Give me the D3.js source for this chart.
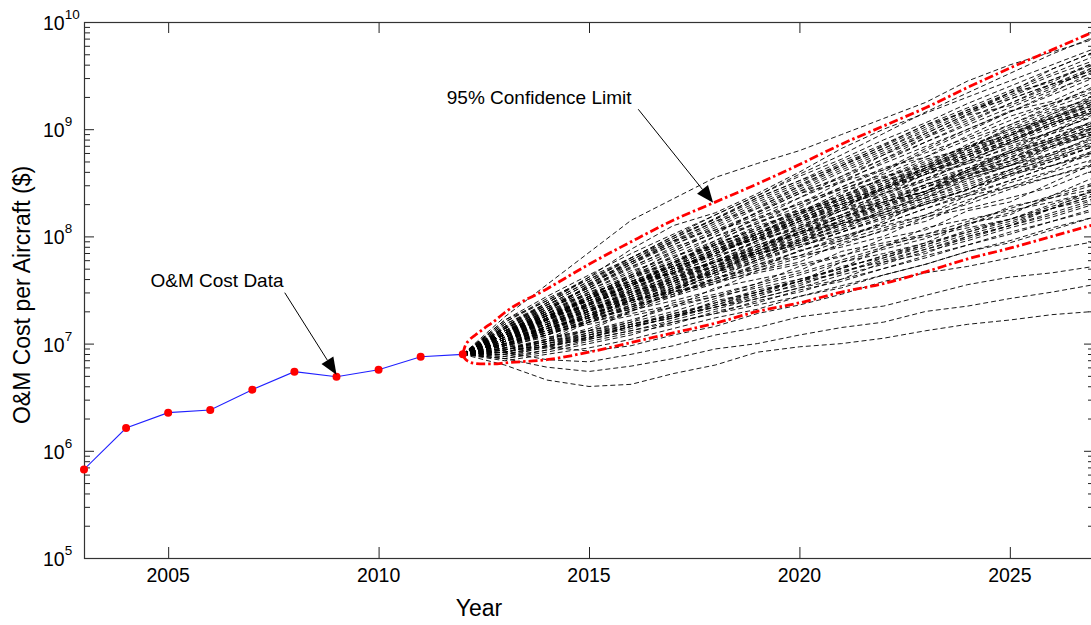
<!DOCTYPE html>
<html>
<head>
<meta charset="utf-8">
<script src="https://cdn.jsdelivr.net/npm/d3@7"></script>
<style>
  body { margin: 0; background: #fff; }
  svg { display: block; }
  text { font-family: "Liberation Sans", Arial, sans-serif; fill: #000; }
</style>
</head>
<body>
<svg id="chart" width="1091" height="625"></svg>
<script>
// historical O&M cost per aircraft ($)
const dataYears = [2003, 2004, 2005, 2006, 2007, 2008, 2009, 2010, 2011, 2012];
const dataCost = [6.7e5, 1.63e6, 2.27e6, 2.40e6, 3.72e6, 5.47e6, 4.91e6, 5.71e6, 7.55e6, 7.94e6];

// 95% confidence limits, log10 of cost
const limitYears = [2012, 2012.05, 2012.15, 2012.3, 2012.5, 2012.75, 2013, 2014, 2015, 2016, 2017, 2018, 2019, 2020, 2021, 2022, 2023, 2024, 2025, 2026, 2027];
const upperLog = [6.90, 6.97, 7.03, 7.08, 7.14, 7.21, 7.29, 7.51, 7.74, 7.95, 8.15, 8.32, 8.49, 8.67, 8.86, 9.03, 9.20, 9.39, 9.57, 9.74, 9.91];
const lowerLog = [6.90, 6.86, 6.83, 6.815, 6.81, 6.81, 6.82, 6.85, 6.92, 7.01, 7.10, 7.19, 7.30, 7.38, 7.48, 7.56, 7.67, 7.79, 7.89, 8.00, 8.11];

// simulated cost paths, log10 of cost, one value per year
const simYears = [2012, 2013, 2014, 2015, 2016, 2017, 2018, 2019, 2020, 2021, 2022, 2023, 2024, 2025, 2026, 2027];
const simPaths = [
  [6.90, 7.25, 7.55, 7.85, 8.15, 8.35, 8.55, 8.68, 8.80, 8.95, 9.10, 9.25, 9.45, 9.60, 9.72, 9.84],
  [6.90, 7.15, 7.38, 7.62, 7.88, 8.10, 8.22, 8.40, 8.60, 8.82, 9.00, 9.15, 9.30, 9.45, 9.60, 9.75],
  [6.90, 7.12, 7.30, 7.55, 7.78, 7.98, 8.17, 8.36, 8.52, 8.66, 8.82, 9.00, 9.18, 9.28, 9.42, 9.55],
  [6.90, 6.80, 6.66, 6.60, 6.62, 6.72, 6.80, 6.92, 6.97, 7.00, 7.05, 7.12, 7.18, 7.22, 7.27, 7.30],
  [6.90, 6.86, 6.78, 6.74, 6.79, 6.86, 6.95, 7.00, 7.08, 7.15, 7.20, 7.30, 7.35, 7.42, 7.48, 7.55],
  [6.90, 6.92, 6.85, 6.83, 6.90, 6.98, 7.08, 7.15, 7.25, 7.30, 7.35, 7.45, 7.55, 7.62, 7.66, 7.72],
  [6.90, 6.95, 6.97, 6.93, 6.98, 7.08, 7.16, 7.28, 7.36, 7.46, 7.58, 7.66, 7.72, 7.80, 7.88, 7.95],
  [6.90, 7.14, 7.36, 7.52, 7.74, 7.95, 8.14, 8.26, 8.47, 8.66, 8.85, 9.04, 9.16, 9.34, 9.56, 9.72],
  [6.90, 7.09, 7.30, 7.54, 7.71, 7.90, 8.02, 8.23, 8.42, 8.54, 8.72, 8.92, 9.13, 9.22, 9.38, 9.58],
  [6.90, 7.12, 7.23, 7.44, 7.64, 7.75, 7.96, 8.18, 8.30, 8.51, 8.62, 8.82, 9.00, 9.17, 9.26, 9.44],
  [6.90, 7.02, 7.24, 7.42, 7.54, 7.76, 7.94, 8.06, 8.26, 8.46, 8.64, 8.74, 8.94, 9.12, 9.24, 9.35],
  [6.90, 7.08, 7.18, 7.37, 7.56, 7.66, 7.86, 7.98, 8.17, 8.36, 8.55, 8.72, 8.82, 9.02, 9.18, 9.28],
  [6.90, 6.99, 7.16, 7.36, 7.46, 7.65, 7.76, 7.96, 8.14, 8.26, 8.46, 8.64, 8.76, 8.94, 9.11, 9.22],
  [6.90, 7.10, 7.28, 7.40, 7.48, 7.60, 7.78, 7.88, 8.08, 8.20, 8.40, 8.52, 8.70, 8.87, 8.96, 9.14],
  [6.90, 6.96, 7.14, 7.26, 7.44, 7.62, 7.72, 7.92, 8.02, 8.18, 8.30, 8.49, 8.60, 8.78, 8.90, 9.08],
  [6.90, 7.06, 7.14, 7.24, 7.41, 7.50, 7.68, 7.86, 7.97, 8.16, 8.32, 8.42, 8.62, 8.72, 8.89, 9.00],
  [6.90, 7.00, 7.08, 7.26, 7.34, 7.52, 7.60, 7.78, 7.96, 8.06, 8.25, 8.36, 8.54, 8.66, 8.84, 8.95],
  [6.90, 7.04, 7.12, 7.20, 7.36, 7.44, 7.62, 7.70, 7.87, 7.96, 8.14, 8.32, 8.43, 8.62, 8.72, 8.88],
  [6.90, 6.94, 7.04, 7.14, 7.31, 7.40, 7.50, 7.68, 7.76, 7.94, 8.05, 8.14, 8.32, 8.50, 8.61, 8.80],
  [6.90, 6.98, 7.06, 7.12, 7.20, 7.38, 7.46, 7.56, 7.72, 7.81, 7.98, 8.06, 8.24, 8.32, 8.50, 8.68],
  [6.90, 6.92, 7.00, 7.08, 7.16, 7.24, 7.40, 7.48, 7.58, 7.76, 7.84, 7.94, 8.12, 8.20, 8.38, 8.55],
  [6.90, 6.96, 7.02, 7.10, 7.18, 7.26, 7.34, 7.42, 7.52, 7.60, 7.76, 7.84, 8.00, 8.10, 8.26, 8.35],
  [6.90, 6.90, 6.98, 7.04, 7.12, 7.20, 7.28, 7.36, 7.44, 7.54, 7.64, 7.74, 7.86, 7.94, 8.06, 8.18],
  [6.90, 7.16, 7.38, 7.58, 7.80, 8.00, 8.20, 8.38, 8.58, 8.76, 8.96, 9.16, 9.34, 9.52, 9.70, 9.86],
  [6.90, 7.14, 7.32, 7.50, 7.68, 7.80, 8.00, 8.12, 8.32, 8.44, 8.56, 8.66, 8.86, 9.04, 9.22, 9.40],
  [6.90, 7.12, 7.34, 7.46, 7.56, 7.72, 7.92, 8.10, 8.22, 8.30, 8.40, 8.58, 8.68, 8.78, 8.96, 9.06],
  [6.90, 7.06, 7.26, 7.34, 7.42, 7.58, 7.66, 7.84, 7.92, 8.00, 8.10, 8.20, 8.38, 8.46, 8.56, 8.66],
  [6.90, 7.02, 7.22, 7.42, 7.62, 7.82, 7.92, 8.02, 8.22, 8.42, 8.52, 8.62, 8.70, 8.88, 9.06, 9.16],
  [6.90, 6.98, 7.16, 7.24, 7.32, 7.50, 7.70, 7.88, 8.08, 8.26, 8.44, 8.62, 8.82, 9.00, 9.10, 9.28],
  [6.90, 7.08, 7.28, 7.48, 7.58, 7.66, 7.76, 7.84, 7.94, 8.12, 8.20, 8.30, 8.40, 8.58, 8.66, 8.76],
  [6.90, 6.94, 7.02, 7.20, 7.28, 7.36, 7.44, 7.52, 7.60, 7.70, 7.90, 8.08, 8.16, 8.24, 8.32, 8.42],
  [6.90, 7.10, 7.32, 7.54, 7.76, 7.96, 8.06, 8.16, 8.36, 8.56, 8.76, 8.96, 9.14, 9.34, 9.44, 9.62],
  [6.90, 7.00, 7.10, 7.30, 7.50, 7.68, 7.88, 7.98, 8.06, 8.24, 8.32, 8.42, 8.62, 8.80, 8.98, 9.16],
  [6.90, 7.04, 7.22, 7.32, 7.40, 7.48, 7.56, 7.74, 7.82, 7.90, 8.00, 8.18, 8.26, 8.36, 8.46, 8.62],
  [6.90, 6.92, 7.02, 7.12, 7.30, 7.48, 7.58, 7.66, 7.74, 7.82, 7.92, 8.00, 8.08, 8.16, 8.26, 8.44],
  [6.90, 7.12, 7.22, 7.42, 7.62, 7.72, 7.82, 8.02, 8.20, 8.40, 8.60, 8.80, 8.98, 9.16, 9.34, 9.54],
  [6.90, 7.02, 7.10, 7.18, 7.26, 7.34, 7.52, 7.60, 7.68, 7.86, 7.94, 8.02, 8.10, 8.28, 8.36, 8.44],
  [6.90, 7.08, 7.26, 7.36, 7.54, 7.74, 7.94, 8.14, 8.24, 8.34, 8.44, 8.64, 8.84, 8.94, 9.14, 9.32],
  [6.90, 6.96, 7.04, 7.22, 7.40, 7.48, 7.66, 7.86, 8.04, 8.12, 8.22, 8.40, 8.58, 8.66, 8.76, 8.94],
  [6.90, 7.06, 7.24, 7.44, 7.64, 7.86, 8.04, 8.22, 8.40, 8.50, 8.70, 8.88, 9.06, 9.24, 9.42, 9.52],
  [6.90, 7.10, 7.26, 7.40, 7.56, 7.70, 7.86, 8.00, 8.16, 8.30, 8.46, 8.60, 8.76, 8.90, 9.06, 9.20],
  [6.90, 7.02, 7.16, 7.32, 7.44, 7.60, 7.72, 7.90, 8.02, 8.18, 8.28, 8.46, 8.56, 8.74, 8.84, 9.02],
  [6.90, 7.06, 7.20, 7.30, 7.48, 7.58, 7.76, 7.86, 8.04, 8.14, 8.32, 8.42, 8.60, 8.70, 8.88, 8.98],
  [6.90, 7.08, 7.22, 7.38, 7.50, 7.66, 7.80, 7.96, 8.08, 8.24, 8.36, 8.52, 8.64, 8.80, 8.92, 9.08],
  [6.90, 7.00, 7.12, 7.28, 7.38, 7.54, 7.66, 7.80, 7.94, 8.06, 8.20, 8.34, 8.46, 8.60, 8.74, 8.86],
  [6.90, 7.04, 7.20, 7.34, 7.50, 7.62, 7.78, 7.92, 8.06, 8.20, 8.36, 8.48, 8.64, 8.78, 8.92, 9.06],
  [6.90, 7.10, 7.24, 7.36, 7.52, 7.68, 7.82, 7.94, 8.10, 8.26, 8.38, 8.54, 8.70, 8.82, 8.98, 9.12],
  [6.90, 6.98, 7.10, 7.24, 7.36, 7.50, 7.64, 7.76, 7.90, 8.04, 8.16, 8.30, 8.44, 8.56, 8.70, 8.84],
  [6.90, 7.12, 7.30, 7.46, 7.62, 7.78, 7.92, 8.08, 8.24, 8.38, 8.54, 8.68, 8.84, 8.98, 9.14, 9.28],
  [6.90, 7.06, 7.18, 7.34, 7.48, 7.64, 7.76, 7.92, 8.04, 8.20, 8.34, 8.48, 8.62, 8.78, 8.90, 9.04],
  [6.90, 7.02, 7.14, 7.26, 7.42, 7.56, 7.70, 7.82, 7.98, 8.10, 8.24, 8.38, 8.52, 8.66, 8.78, 8.92],
  [6.90, 7.14, 7.32, 7.50, 7.66, 7.84, 8.00, 8.16, 8.30, 8.46, 8.62, 8.78, 8.92, 9.08, 9.24, 9.38],
  [6.90, 7.04, 7.16, 7.30, 7.42, 7.54, 7.70, 7.84, 7.96, 8.12, 8.26, 8.40, 8.54, 8.66, 8.82, 8.96],
  [6.90, 7.08, 7.24, 7.42, 7.56, 7.72, 7.88, 8.02, 8.18, 8.34, 8.48, 8.64, 8.78, 8.94, 9.08, 9.24],
  [6.90, 7.00, 7.08, 7.20, 7.34, 7.46, 7.60, 7.72, 7.86, 7.98, 8.12, 8.26, 8.38, 8.52, 8.66, 8.78],
  [6.90, 7.10, 7.28, 7.44, 7.58, 7.74, 7.90, 8.04, 8.20, 8.36, 8.50, 8.66, 8.80, 8.96, 9.10, 9.26],
  [6.90, 7.06, 7.22, 7.36, 7.52, 7.66, 7.84, 7.98, 8.12, 8.28, 8.42, 8.58, 8.72, 8.86, 9.02, 9.16],
  [6.90, 7.02, 7.18, 7.30, 7.46, 7.58, 7.74, 7.86, 8.02, 8.14, 8.30, 8.42, 8.58, 8.70, 8.86, 8.98],
  [6.90, 6.98, 7.12, 7.26, 7.40, 7.52, 7.68, 7.80, 7.94, 8.08, 8.22, 8.36, 8.50, 8.62, 8.78, 8.90],
  [6.90, 7.12, 7.28, 7.42, 7.60, 7.76, 7.90, 8.06, 8.22, 8.36, 8.52, 8.66, 8.82, 8.96, 9.12, 9.26],
  [6.90, 7.04, 7.14, 7.28, 7.40, 7.56, 7.68, 7.82, 7.96, 8.10, 8.22, 8.36, 8.48, 8.62, 8.76, 8.88],
  [6.90, 7.08, 7.20, 7.36, 7.52, 7.66, 7.80, 7.96, 8.10, 8.24, 8.40, 8.54, 8.68, 8.84, 8.98, 9.12],
  [6.90, 7.16, 7.34, 7.52, 7.70, 7.86, 8.04, 8.20, 8.36, 8.52, 8.68, 8.84, 9.00, 9.16, 9.32, 9.48],
  [6.90, 7.00, 7.10, 7.22, 7.32, 7.46, 7.58, 7.70, 7.82, 7.96, 8.08, 8.20, 8.34, 8.46, 8.60, 8.72],
  [6.90, 7.06, 7.22, 7.38, 7.54, 7.70, 7.84, 8.00, 8.14, 8.30, 8.44, 8.60, 8.74, 8.90, 9.04, 9.20],
  [6.90, 7.10, 7.22, 7.38, 7.54, 7.68, 7.84, 7.98, 8.14, 8.28, 8.44, 8.58, 8.74, 8.88, 9.04, 9.18],
  [6.90, 7.02, 7.12, 7.24, 7.38, 7.50, 7.64, 7.78, 7.90, 8.04, 8.18, 8.30, 8.44, 8.58, 8.70, 8.84],
  [6.90, 7.12, 7.26, 7.44, 7.58, 7.72, 7.88, 8.02, 8.16, 8.32, 8.46, 8.60, 8.76, 8.90, 9.06, 9.20],
  [6.90, 6.96, 7.08, 7.20, 7.30, 7.44, 7.56, 7.68, 7.80, 7.92, 8.06, 8.18, 8.30, 8.44, 8.56, 8.68],
  [6.90, 7.08, 7.26, 7.40, 7.54, 7.70, 7.86, 8.02, 8.16, 8.32, 8.48, 8.62, 8.78, 8.92, 9.08, 9.22],
  [6.90, 7.04, 7.18, 7.32, 7.46, 7.62, 7.76, 7.90, 8.04, 8.18, 8.32, 8.46, 8.60, 8.74, 8.88, 9.02],
  [6.90, 7.14, 7.30, 7.48, 7.64, 7.80, 7.96, 8.12, 8.28, 8.44, 8.58, 8.74, 8.90, 9.04, 9.20, 9.34],
  [6.90, 7.00, 7.14, 7.26, 7.40, 7.52, 7.66, 7.78, 7.92, 8.04, 8.18, 8.32, 8.44, 8.58, 8.72, 8.84],
  [6.90, 7.06, 7.18, 7.32, 7.48, 7.60, 7.76, 7.88, 8.04, 8.18, 8.34, 8.46, 8.62, 8.76, 8.90, 9.04],
  [6.90, 7.10, 7.26, 7.42, 7.58, 7.72, 7.88, 8.04, 8.18, 8.34, 8.50, 8.64, 8.80, 8.94, 9.10, 9.24],
  [6.90, 6.98, 7.08, 7.22, 7.34, 7.48, 7.60, 7.74, 7.86, 8.00, 8.12, 8.26, 8.40, 8.52, 8.66, 8.80],
  [6.90, 7.08, 7.22, 7.40, 7.54, 7.70, 7.84, 8.00, 8.14, 8.30, 8.44, 8.58, 8.74, 8.88, 9.04, 9.18],
  [6.90, 7.04, 7.16, 7.30, 7.44, 7.58, 7.72, 7.86, 8.00, 8.14, 8.28, 8.42, 8.56, 8.70, 8.84, 8.98],
  [6.90, 7.02, 7.16, 7.28, 7.44, 7.56, 7.72, 7.84, 8.00, 8.12, 8.28, 8.40, 8.56, 8.68, 8.84, 8.96],
  [6.90, 7.12, 7.28, 7.46, 7.62, 7.76, 7.92, 8.08, 8.22, 8.38, 8.54, 8.70, 8.84, 9.00, 9.16, 9.30],
  [6.90, 6.88, 6.97, 7.05, 7.16, 7.24, 7.36, 7.46, 7.58, 7.66, 7.80, 7.90, 8.02, 8.12, 8.26, 8.38],
  [6.90, 6.86, 6.92, 7.00, 7.08, 7.20, 7.28, 7.40, 7.48, 7.60, 7.70, 7.82, 7.92, 8.04, 8.14, 8.26],
  [6.90, 6.92, 7.00, 7.10, 7.20, 7.30, 7.42, 7.54, 7.64, 7.76, 7.88, 7.98, 8.12, 8.22, 8.36, 8.48],
  [6.90, 6.84, 6.90, 6.96, 7.04, 7.14, 7.24, 7.32, 7.44, 7.52, 7.64, 7.74, 7.86, 7.96, 8.08, 8.18],
  [6.90, 6.90, 6.98, 7.06, 7.14, 7.26, 7.34, 7.46, 7.54, 7.68, 7.76, 7.88, 7.98, 8.10, 8.20, 8.32],
  [6.90, 6.94, 7.02, 7.08, 7.18, 7.28, 7.38, 7.48, 7.60, 7.70, 7.82, 7.94, 8.04, 8.16, 8.28, 8.40],
  [6.90, 6.88, 6.94, 7.04, 7.12, 7.22, 7.32, 7.42, 7.52, 7.64, 7.74, 7.86, 7.96, 8.08, 8.18, 8.30],
  [6.90, 6.92, 6.98, 7.08, 7.18, 7.26, 7.38, 7.50, 7.58, 7.70, 7.82, 7.92, 8.06, 8.16, 8.30, 8.42],
  [6.90, 6.86, 6.94, 7.02, 7.10, 7.18, 7.30, 7.38, 7.50, 7.58, 7.70, 7.80, 7.92, 8.02, 8.14, 8.24],
  [6.90, 6.94, 7.04, 7.12, 7.22, 7.34, 7.44, 7.56, 7.66, 7.78, 7.90, 8.02, 8.14, 8.26, 8.38, 8.50],
  [6.90, 6.90, 6.96, 7.06, 7.16, 7.24, 7.34, 7.44, 7.56, 7.66, 7.78, 7.88, 8.00, 8.10, 8.22, 8.34],
  [6.90, 6.92, 7.00, 7.06, 7.16, 7.28, 7.36, 7.48, 7.58, 7.72, 7.80, 7.92, 8.04, 8.14, 8.26, 8.38],
  [6.90, 7.20, 7.40, 7.62, 7.80, 8.00, 8.16, 8.36, 8.52, 8.70, 8.86, 9.04, 9.20, 9.36, 9.52, 9.68],
  [6.90, 7.18, 7.38, 7.58, 7.76, 7.94, 8.12, 8.30, 8.46, 8.64, 8.80, 8.96, 9.14, 9.30, 9.46, 9.60],
  [6.90, 7.22, 7.44, 7.64, 7.84, 8.02, 8.20, 8.38, 8.56, 8.72, 8.90, 9.06, 9.24, 9.40, 9.56, 9.72],
  [6.90, 7.16, 7.36, 7.56, 7.74, 7.92, 8.08, 8.26, 8.42, 8.60, 8.76, 8.92, 9.08, 9.24, 9.40, 9.56],
  [6.90, 7.20, 7.42, 7.60, 7.80, 7.98, 8.16, 8.34, 8.50, 8.68, 8.84, 9.02, 9.18, 9.34, 9.50, 9.64],
  [6.90, 7.18, 7.36, 7.56, 7.76, 7.92, 8.10, 8.28, 8.44, 8.62, 8.78, 8.94, 9.10, 9.28, 9.42, 9.58],
  [6.90, 7.14, 7.34, 7.52, 7.72, 7.88, 8.06, 8.22, 8.40, 8.56, 8.72, 8.88, 9.04, 9.20, 9.36, 9.50],
  [6.90, 7.22, 7.40, 7.60, 7.78, 7.96, 8.14, 8.32, 8.48, 8.66, 8.82, 8.98, 9.16, 9.32, 9.46, 9.62]
];

// axis ticks
const xTicks = [2005, 2010, 2015, 2020, 2025];
const yMajor = [1e5, 1e6, 1e7, 1e8, 1e9, 1e10];
const yExp = [5, 6, 7, 8, 9, 10];

// annotations: text anchor and arrow in data units (year, log10 cost)
const notes = [
  {label: "O&M Cost Data", tx: 2004.58, ty: 7.525, ax: 2007.77, ay: 7.475, bx: 2009.0, by: 6.71},
  {label: "95% Confidence Limit", tx: 2011.62, ty: 9.232, ax: 2016.17, ay: 9.186, bx: 2017.95, by: 8.314}
];

const svg = d3.select("#chart");
const margin = {left: 84, right: 1094, top: 22, bottom: 558};
const x = d3.scaleLinear().domain([2003, 2027]).range([margin.left, margin.right]);
const y = d3.scaleLog().domain([1e5, 1e10]).range([margin.bottom, margin.top]);
const pow = v => Math.pow(10, v);

svg.append("clipPath").attr("id", "plot")
  .append("rect")
  .attr("x", margin.left).attr("y", margin.top)
  .attr("width", margin.right - margin.left).attr("height", margin.bottom - margin.top);

const plot = svg.append("g").attr("clip-path", "url(#plot)");

// simulated paths
const simLine = d3.line()
  .x((d, i) => x(simYears[i]))
  .y(d => y(pow(d)));
plot.append("g").selectAll("path")
  .data(simPaths)
  .join("path")
  .attr("d", simLine)
  .attr("fill", "none")
  .attr("stroke", "#000")
  .attr("stroke-width", 0.9)
  .attr("stroke-dasharray", "5,3");

// confidence limits
const limLine = d3.line()
  .curve(d3.curveMonotoneX)
  .x((d, i) => x(limitYears[i]))
  .y(d => y(pow(d)));
plot.append("g").selectAll("path")
  .data([upperLog, lowerLog])
  .join("path")
  .attr("d", limLine)
  .attr("fill", "none")
  .attr("stroke", "#f00")
  .attr("stroke-width", 2.8)
  .attr("stroke-dasharray", "9,3,2.5,3");

// historical data
const dataLine = d3.line()
  .x((d, i) => x(dataYears[i]))
  .y(d => y(d));
plot.append("path")
  .datum(dataCost)
  .attr("d", dataLine)
  .attr("fill", "none")
  .attr("stroke", "#2020ff")
  .attr("stroke-width", 1.1);

// axes, ticks pointing inward
const minor = [];
[1e5, 1e6, 1e7, 1e8, 1e9].forEach(b => [2, 3, 4, 5, 6, 7, 8, 9].forEach(m => minor.push(b * m)));

function styleAxis(g) {
  g.select(".domain").remove();
  g.selectAll(".tick line").attr("stroke", "#222");
  g.selectAll(".tick text").remove();
}
svg.append("g").attr("transform", "translate(0," + margin.bottom + ")")
  .call(d3.axisBottom(x).tickValues(xTicks).tickSize(-11))
  .call(styleAxis);
svg.append("g").attr("transform", "translate(0," + margin.top + ")")
  .call(d3.axisTop(x).tickValues(xTicks).tickSize(-11))
  .call(styleAxis);
svg.append("g").attr("transform", "translate(" + margin.left + ",0)")
  .call(d3.axisLeft(y).tickValues(yMajor).tickSize(-10))
  .call(styleAxis);
svg.append("g").attr("transform", "translate(" + margin.left + ",0)")
  .call(d3.axisLeft(y).tickValues(minor).tickSize(-6))
  .call(styleAxis);
svg.append("g").attr("transform", "translate(" + margin.right + ",0)")
  .call(d3.axisRight(y).tickValues(yMajor).tickSize(-10))
  .call(styleAxis);
svg.append("g").attr("transform", "translate(" + margin.right + ",0)")
  .call(d3.axisRight(y).tickValues(minor).tickSize(-6))
  .call(styleAxis);

svg.append("rect")
  .attr("x", margin.left + 0.5).attr("y", margin.top + 0.5)
  .attr("width", margin.right - margin.left).attr("height", margin.bottom - margin.top)
  .attr("fill", "none")
  .attr("stroke", "#333")
  .attr("stroke-width", 1.2);

// data markers drawn above the frame
svg.append("g").selectAll("circle")
  .data(dataCost)
  .join("circle")
  .attr("cx", (d, i) => x(dataYears[i]))
  .attr("cy", d => y(d))
  .attr("r", 4)
  .attr("fill", "#f00");

// tick labels
svg.append("g").selectAll("text")
  .data(xTicks)
  .join("text")
  .attr("x", d => x(d))
  .attr("y", margin.bottom + 24)
  .attr("text-anchor", "middle")
  .attr("font-size", 19.5)
  .text(d => d);

const yl = svg.append("g").selectAll("text")
  .data(yMajor)
  .join("text")
  .attr("x", 43)
  .attr("y", d => y(d) + 8)
  .attr("font-size", 19.5);
yl.append("tspan").text("10");
yl.append("tspan")
  .attr("font-size", 13.5)
  .attr("dy", -11)
  .text((d, i) => yExp[i]);

// axis titles
svg.append("text")
  .attr("x", 479).attr("y", 616)
  .attr("text-anchor", "middle")
  .attr("font-size", 23)
  .text("Year");
svg.append("text")
  .attr("transform", "translate(30,295) rotate(-90)")
  .attr("text-anchor", "middle")
  .attr("font-size", 23)
  .text("O&M Cost per Aircraft ($)");

// annotations with arrows
notes.forEach(n => {
  svg.append("text")
    .attr("x", x(n.tx)).attr("y", y(pow(n.ty)))
    .attr("font-size", 19)
    .text(n.label);
  let x1 = x(n.ax), y1 = y(pow(n.ay)), x2 = x(n.bx), y2 = y(pow(n.by));
  let len = Math.hypot(x2 - x1, y2 - y1), ux = (x2 - x1) / len, uy = (y2 - y1) / len;
  let hl = 17, hw = 7;
  let bx = x2 - ux * hl, by = y2 - uy * hl;
  svg.append("line")
    .attr("x1", x1).attr("y1", y1).attr("x2", bx).attr("y2", by)
    .attr("stroke", "#000").attr("stroke-width", 1);
  svg.append("polygon")
    .attr("points", [[x2, y2], [bx - uy * hw, by + ux * hw], [bx + uy * hw, by - ux * hw]].join(" "))
    .attr("fill", "#000");
});
</script>
</body>
</html>
